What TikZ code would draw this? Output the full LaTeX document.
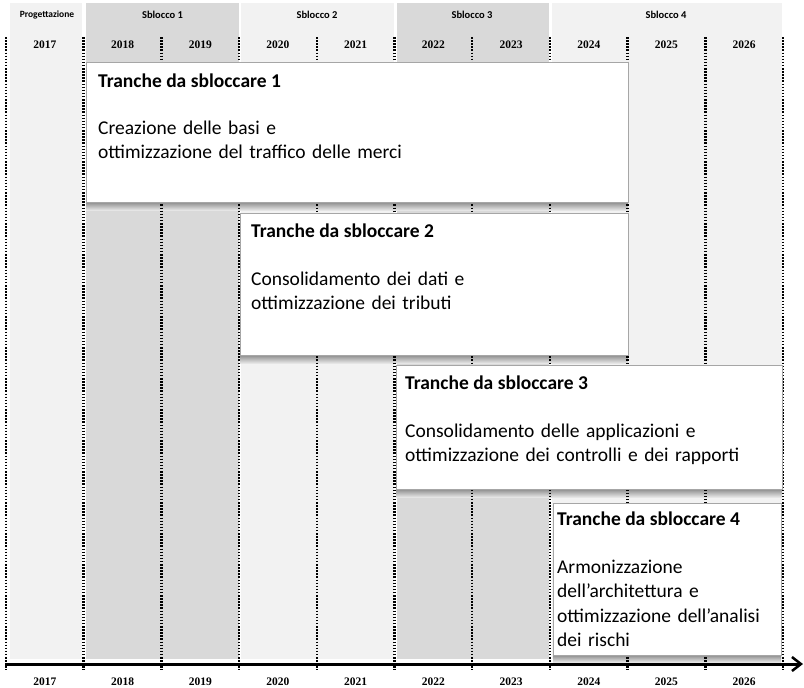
\documentclass[tikz,border=0pt]{standalone}
\usepackage{fontspec}
\setmainfont{Carlito}
\newfontfamily\yearfont{Liberation Serif}
\usetikzlibrary{arrows.meta}
\definecolor{phasedark}{HTML}{D9D9D9}
\definecolor{phaselight}{HTML}{F2F2F2}
\definecolor{boxline}{HTML}{A6A6A6}
\begin{document}
\begin{tikzpicture}[x=1pt,y=-1pt,
  year/.style={inner sep=0, font=\yearfont\bfseries\fontsize{11.5}{12}\selectfont},
  phase/.style={inner sep=0, font=\bfseries\fontsize{10.5}{12}\selectfont},
  band/.style={draw=none, inner sep=0, anchor=north west},
  yearline/.style={line width=2.5pt, dash pattern=on 1.5pt off 1.6pt},
  tranche/.style={draw=boxline, line width=0.8pt, fill=white, inner sep=0, anchor=north west},
  boxshadow/.style={top color=black!45, bottom color=black!10, draw=none},
  ttl/.style={inner sep=0, anchor=base west, font=\bfseries\fontsize{19.5}{24.5}\selectfont},
  body/.style={inner sep=0, anchor=base west, align=left, text width=500pt, font=\fontsize{19.5}{24.5}\selectfont},
]
\useasboundingbox (0,0) rectangle (804,688);
\fill[white] (0,0) rectangle (804,688);

% phase bands (header and column background)
\node[band, fill=phaselight, minimum width=72pt,  minimum height=656pt] (bp) at (10,3) {};
\node[band, fill=phasedark,  minimum width=152.5pt, minimum height=656pt] (b1) at (86,3) {};
\node[band, fill=phaselight, minimum width=153pt, minimum height=656pt] (b2) at (241,3) {};
\node[band, fill=phasedark,  minimum width=152pt, minimum height=656pt] (b3) at (397,3) {};
\node[band, fill=phaselight, minimum width=229.5pt, minimum height=656pt] (b4) at (552,3) {};

% phase titles
\node[phase, font=\bfseries\fontsize{9.5}{12}\selectfont] (pp) at (47,15) {Progettazione};
\node[phase] (p1) at (162.5,15) {Sblocco 1};
\node[phase] (p2) at (317,15) {Sblocco 2};
\node[phase] (p3) at (472,15) {Sblocco 3};
\node[phase] (p4) at (666,15) {Sblocco 4};

% shadows beneath the tranche boxes
\shade[boxshadow] (86,202) rectangle (628,210);
\shade[boxshadow] (240,355) rectangle (628,363);
\shade[boxshadow] (396,489) rectangle (782,497);
\shade[boxshadow] (553,655) rectangle (781,662);

% year boundaries and year labels
\foreach \i in {0,...,10} {
  \coordinate (top\i) at ({6+77.7*\i},37);
  \coordinate (bot\i) at ({6+77.7*\i},670);
  \draw[yearline] (top\i) -- (bot\i);
}
\foreach \y [count=\i from 0] in {2017,...,2026} {
  \node[year] (yh\y) at ({44.85+77.7*\i},45) {\y};
  \node[year] (yf\y) at ({44.85+77.7*\i},682) {\y};
}

% time axis
\coordinate (axs) at (5,664);
\coordinate (axe) at (803,664);
\draw[line width=3pt, -{Straight Barb[length=9pt,width=14pt,line width=2.5pt]}] (axs) -- (axe);

% tranche boxes
\node[tranche, minimum width=542pt, minimum height=140pt] (t1) at (86,62) {};
\node[tranche, minimum width=388pt, minimum height=142pt] (t2) at (240,213) {};
\node[tranche, minimum width=386pt, minimum height=124pt] (t3) at (396,365) {};
\node[tranche, minimum width=228pt, minimum height=152pt] (t4) at (553,503) {};

\node[ttl] (t1t) at (98,87) {Tranche da sbloccare 1};
\node[body] (t1b) at (98,134) {Creazione delle basi e\\ottimizzazione del traffico delle merci};
\node[ttl] (t2t) at (251,237) {Tranche da sbloccare 2};
\node[body] (t2b) at (251,285) {Consolidamento dei dati e\\ottimizzazione dei tributi};
\node[ttl] (t3t) at (405,389) {Tranche da sbloccare 3};
\node[body] (t3b) at (405,437) {Consolidamento delle applicazioni e\\ottimizzazione dei controlli e dei rapporti};
\node[ttl] (t4t) at (557,525) {Tranche da sbloccare 4};
\node[body] (t4b) at (557,573) {Armonizzazione\\dell’architettura e\\ottimizzazione dell’analisi\\dei rischi};
\end{tikzpicture}
\end{document}
